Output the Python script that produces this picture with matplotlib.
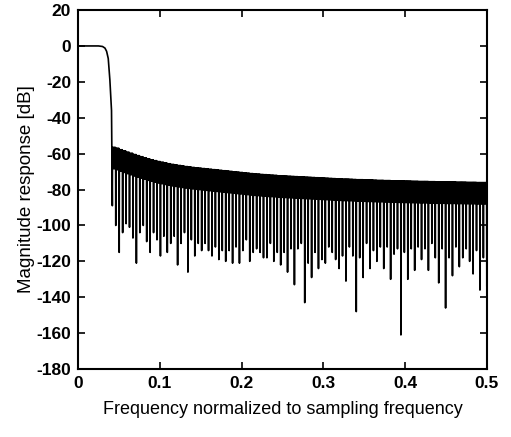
import numpy as np
import matplotlib
matplotlib.use("Agg")
import matplotlib.pyplot as plt

plt.rcParams["axes.unicode_minus"] = False

# passband and transition edge
pass_freq = [0.0, 0.025, 0.030, 0.033, 0.035, 0.037, 0.039, 0.041]
pass_db = [0.0, 0.0, -0.3, -1.2, -3.0, -7.0, -19.0, -36.0]

# stopband: deep nulls start at 0.042 and repeat every 0.0042
null_start = 0.042
null_step = 0.0042
null_db = [
    -89, -100, -115, -104, -99, -101, -107, -121, -104, -100,
    -109, -115, -104, -108, -117, -106, -115, -110, -106, -122,
    -110, -104, -126, -108, -117, -110, -114, -110, -114, -117,
    -112, -119, -114, -120, -114, -121, -112, -121, -114, -108,
    -120, -115, -113, -115, -118, -118, -110, -120, -115, -122,
    -115, -126, -113, -133, -113, -110, -143, -121, -129, -115,
    -124, -119, -121, -112, -115, -119, -124, -117, -131, -112,
    -117, -148, -118, -129, -110, -124, -114, -120, -112, -124,
    -112, -130, -116, -113, -161, -115, -130, -113, -125, -112,
    -119, -113, -125, -110, -118, -132, -113, -146, -118, -128,
    -112, -123, -118, -113, -120, -127, -114, -136, -118, -134,
]

# sidelobe peak level after each deep null
peak_db = [
    -56.5, -57.0, -57.8, -58.5, -59.2, -59.8, -60.5, -61.1, -61.7, -62.3,
    -62.9, -63.4, -63.9, -64.4, -64.8, -65.2, -65.6, -66.0, -66.3, -66.6,
    -66.9, -67.2, -67.4, -67.7, -67.9, -68.1, -68.3, -68.5, -68.7, -68.9,
    -69.1, -69.3, -69.5, -69.7, -69.9, -70.1, -70.3, -70.5, -70.7, -70.9,
    -71.1, -71.3, -71.4, -71.6, -71.7, -71.9, -72.0, -72.1, -72.3, -72.4,
    -72.5, -72.6, -72.7, -72.8, -72.9, -73.0, -73.1, -73.2, -73.3, -73.4,
    -73.5, -73.6, -73.7, -73.8, -73.9, -74.0, -74.1, -74.2, -74.2, -74.3,
    -74.4, -74.5, -74.5, -74.6, -74.7, -74.7, -74.8, -74.9, -74.9, -75.0,
    -75.0, -75.1, -75.1, -75.2, -75.2, -75.3, -75.3, -75.4, -75.4, -75.5,
    -75.5, -75.5, -75.6, -75.6, -75.7, -75.7, -75.7, -75.8, -75.8, -75.8,
    -75.9, -75.9, -75.9, -76.0, -76.0, -76.0, -76.1, -76.1, -76.1, -76.2,
]

# between two deep nulls the response has narrow lobes whose
# shallow troughs sit this far below the lobe peak
sub_trough_drop = [-7, -12, -7]
# shape of one narrow lobe: position within the lobe, level below its peak
lobe_pos = [0.2, 0.5, 0.8]
lobe_drop = [-3, 0, -3]

freq = list(pass_freq)
mag = list(pass_db)
n_sub = len(sub_trough_drop) + 1
for k in range(len(null_db)):
    f0 = null_start + k * null_step
    w = null_step / n_sub
    for j in range(n_sub):
        fs = f0 + j * w
        freq.append(fs)
        mag.append(null_db[k] if j == 0 else peak_db[k] + sub_trough_drop[j - 1])
        for p, d in zip(lobe_pos, lobe_drop):
            freq.append(fs + p * w)
            mag.append(peak_db[k] + d)

fig = plt.figure(figsize=(5.11, 4.37), dpi=100)
ax = fig.add_axes([0.1526, 0.1556, 0.8004, 0.8214])
ax.plot(freq, mag, color="black", linewidth=1.2)

ax.set_xlim(0, 0.5)
ax.set_ylim(-180, 20)
ax.set_xticks([0, 0.1, 0.2, 0.3, 0.4, 0.5])
ax.set_xticklabels(["0", "0.1", "0.2", "0.3", "0.4", "0.5"])
ax.set_yticks(np.arange(-180, 21, 20))
ax.tick_params(direction="in", top=True, right=True, length=5, width=1.2,
               labelsize=12.5, pad=5)
for lab in ax.get_xticklabels() + ax.get_yticklabels():
    lab.set_fontfamily("Liberation Sans")
    lab.set_fontweight("bold")
for s in ax.spines.values():
    s.set_linewidth(1.5)

ax.set_xlabel("Frequency normalized to sampling frequency", fontsize=13,
              family="Liberation Sans", labelpad=7)
ax.set_ylabel("Magnitude response [dB]", fontsize=13.5,
              family="Liberation Sans", labelpad=1)

fig.savefig("out.png", dpi=100)
